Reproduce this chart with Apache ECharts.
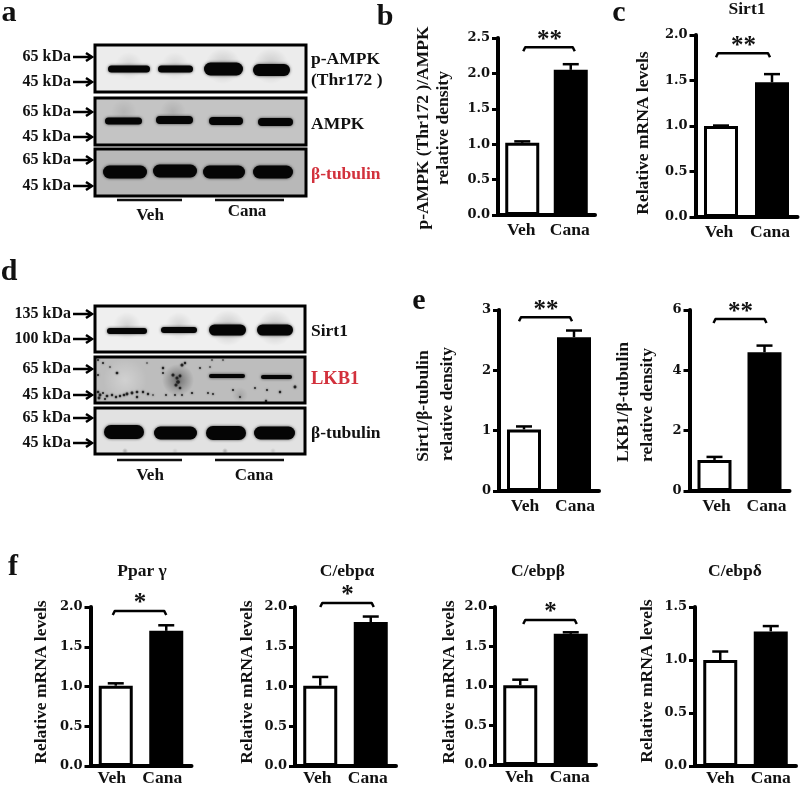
<!DOCTYPE html>
<html>
<head>
<meta charset="utf-8">
<title>Canagliflozin blots and bars</title>
<script src="https://cdn.jsdelivr.net/npm/echarts@6/dist/echarts.min.js"></script>
<style>
html, body { margin: 0; padding: 0; background: #fff; }
#chart { width: 800px; height: 785px; }
</style>
</head>
<body>
<div id="chart"></div>
<script>
const categories = ['Veh', 'Cana'];

// bar heights and upper error bars
const pAmpkValues = [1.02, 2.05];
const pAmpkErrors = [0.02, 0.08];
const sirt1MrnaValues = [1.0, 1.48];
const sirt1MrnaErrors = [0.005, 0.09];
const sirt1DensityValues = [1.02, 2.55];
const sirt1DensityErrors = [0.05, 0.11];
const lkb1DensityValues = [1.03, 4.6];
const lkb1DensityErrors = [0.1, 0.22];
const pparValues = [1.01, 1.7];
const pparErrors = [0.03, 0.07];
const cebpaValues = [1.01, 1.81];
const cebpaErrors = [0.11, 0.07];
const cebpbValues = [1.01, 1.66];
const cebpbErrors = [0.07, 0.02];
const cebpdValues = [1.0, 1.27];
const cebpdErrors = [0.08, 0.05];

const serif = '"Liberation Serif", "Times New Roman", serif';
const tickFont = '"DejaVu Serif", serif';

// x,y,w,h of each plot area. sig = bracket level, stars, sideways shift. nudge = x label shift
const panels = [
  { x: 498, y: 38, w: 97, h: 177, max: 2.5, step: 0.5, nudge: -1, values: pAmpkValues, errors: pAmpkErrors, sig: [2.37, '**', 1] },
  { x: 695.5, y: 35, w: 102, h: 182, max: 2, step: 0.5, nudge: -2, values: sirt1MrnaValues, errors: sirt1MrnaErrors, sig: [1.8, '**', -5] },
  { x: 499, y: 310, w: 100, h: 181, max: 3, step: 1, nudge: 1, values: sirt1DensityValues, errors: sirt1DensityErrors, sig: [2.88, '**', -5] },
  { x: 689.5, y: 310, w: 100, h: 181, max: 6, step: 2, nudge: 2, values: lkb1DensityValues, errors: lkb1DensityErrors, sig: [5.7, '**', -1] },
  { x: 90.5, y: 607, w: 101, h: 159, max: 2, step: 0.5, nudge: -4, values: pparValues, errors: pparErrors, sig: [1.95, '*', -3] },
  { x: 295, y: 607, w: 101, h: 159, max: 2, step: 0.5, nudge: -3, values: cebpaValues, errors: cebpaErrors, sig: [2.05, '*', 0] },
  { x: 495, y: 607, w: 101, h: 158, max: 2, step: 0.5, nudge: -1, values: cebpbValues, errors: cebpbErrors, sig: [1.835, '*', 3] },
  { x: 695, y: 607, w: 101, h: 159, max: 1.5, step: 0.5, nudge: 0, values: cebpdValues, errors: cebpdErrors, sig: null }
];

// [text, x, y, size, color, rotated]
const labels = [
  ['a', 9, 13, 30], ['b', 385, 17, 30], ['c', 619, 13, 30], ['d', 9, 272, 30], ['e', 419, 301, 30], ['f', 13, 567, 30],
  ['p-AMPK (Thr172 )/AMPK', 423, 128, 17.5, '#111', true], ['relative density', 443, 128, 17.5, '#111', true],
  ['Relative mRNA levels', 643, 133, 17.5, '#111', true],
  ['Sirt1/β-tubulin', 423, 406, 17.5, '#111', true], ['relative density', 447, 404, 17.5, '#111', true],
  ['LKB1/β-tubulin', 623, 402, 17.5, '#111', true], ['relative density', 647, 405, 17.5, '#111', true],
  ['Relative mRNA levels', 41, 682, 17.5, '#111', true], ['Relative mRNA levels', 247, 682, 17.5, '#111', true],
  ['Relative mRNA levels', 449, 682, 17.5, '#111', true], ['Relative mRNA levels', 647, 681, 17.5, '#111', true],
  ['Sirt1', 747, 9, 17.5], ['Ppar γ', 142, 571, 17.5], ['C/ebpα', 347, 571, 17.5], ['C/ebpβ', 538, 571, 17.5], ['C/ebpδ', 735, 571, 17.5],
  ['Veh', 150, 216, 17], ['Cana', 247, 212, 17], ['Veh', 150, 476, 17], ['Cana', 254, 476, 17]
];

// blot frames: x, y, w, h, background
const blotFrames = [
  [95, 45, 211, 47, '#ececec'], [95, 98, 211, 47, '#c4c4c4'], [95, 149, 211, 47, '#b8b8b8'],
  [95, 306, 210, 46, '#efefef'], [95, 357, 210, 46, '#bdbdbd'], [95, 408, 210, 46, '#e2e2e2']
];
// soft smears behind the bands: centre x, centre y, half width, half height, colour of the centre
const blotSmears = [
  [129, 66, 30, 14, 'rgba(0,0,0,0.1)'], [175, 66, 26, 14, 'rgba(0,0,0,0.1)'], [223, 66, 30, 18, 'rgba(0,0,0,0.16)'], [271, 66, 28, 18, 'rgba(0,0,0,0.16)'],
  [173, 112, 24, 13, 'rgba(0,0,0,0.1)'], [124, 112, 24, 13, 'rgba(0,0,0,0.08)'],
  [127, 326, 28, 14, 'rgba(0,0,0,0.12)'], [179, 326, 26, 14, 'rgba(0,0,0,0.12)'], [228, 328, 30, 18, 'rgba(0,0,0,0.18)'], [275, 328, 28, 18, 'rgba(0,0,0,0.18)'],
  [125, 380, 30, 22, 'rgba(255,255,255,0.3)'], [178, 380, 16, 22, 'rgba(0,0,0,0.4)'], [240, 395, 32, 8, 'rgba(0,0,0,0.12)'],
  [125, 451, 18, 3, 'rgba(0,0,0,0.25)'], [225, 451, 18, 3, 'rgba(0,0,0,0.25)'], [175, 451, 18, 3, 'rgba(0,0,0,0.1)'], [273, 451, 18, 3, 'rgba(0,0,0,0.12)']
];
// bands: left, right, centre y, height
const blotBands = [
  [108, 150, 69, 7], [158, 193, 69, 7], [204, 243, 69, 13], [253, 290, 70, 12],
  [105, 142, 121, 7], [156, 193, 120, 8], [209, 243, 121, 8], [258, 293, 122, 8],
  [103, 147, 172, 13], [153, 197, 171, 13], [203, 245, 172, 13], [253, 293, 172, 13],
  [107, 147, 331, 6], [161, 197, 330, 6], [209, 246, 330, 11], [257, 293, 330, 11],
  [209, 245, 376, 4], [261, 292, 377, 4],
  [104, 144, 432, 14], [154, 197, 433, 13], [206, 246, 433, 14], [254, 295, 433, 13]
];
// specks on the LKB1 membrane: x, y, radius
const blotSpecks = [
  [98, 360, 1], [103, 363, 1], [110, 367, 0.8], [117, 373, 1.3], [98, 375, 1], [98, 392, 1.3], [100, 395, 1.4], [103, 393, 1], [99, 398, 1.4], [105, 399, 1],
  [120, 396, 1.2], [127, 394, 1.4], [132, 393, 1.4], [137, 392, 1.3], [143, 392, 1.2], [148, 394, 1.2], [153, 395, 0.8], [163, 368, 1.2], [166, 395, 0.9], [173, 375, 1.5],
  [178, 382, 1.8], [182, 365, 1.5], [185, 363, 1.2], [180, 388, 1.3], [175, 395, 0.9], [182, 395, 0.9], [192, 393, 1.1], [200, 368, 0.9], [210, 367, 0.8], [212, 360, 0.8],
  [223, 360, 0.8], [208, 393, 0.9], [213, 394, 0.9], [233, 390, 1], [240, 397, 0.9], [255, 388, 0.9], [267, 390, 1], [280, 392, 1.2], [295, 387, 1.4], [266, 401, 1.2],
  [163, 373, 1], [137, 397, 1.2], [147, 363, 0.7], [107, 396, 1.3], [112, 395, 1.2], [116, 397, 1.2], [124, 395, 1.3], [177, 378, 1.5], [180, 376, 1.4], [176, 385, 1.5]
];
const blotBars = [[117, 182, 200], [215, 284, 200], [117, 182, 460], [215, 284, 460]];
// side names: text, y, size, color
const blotNames = [
  ['p-AMPK', 59, 17.5, '#111'], ['(Thr172 )', 80, 17.5, '#111'], ['AMPK', 124, 17.5, '#111'], ['β-tubulin', 174, 17.5, '#d2313c'],
  ['Sirt1', 331, 17.5, '#111'], ['LKB1', 379, 18.5, '#d2313c'], ['β-tubulin', 433, 17.5, '#111']
];
// size markers: text, y
const sizeMarks = [
  ['65 kDa', 57], ['45 kDa', 82], ['65 kDa', 112], ['45 kDa', 137], ['65 kDa', 160], ['45 kDa', 186],
  ['135 kDa', 314], ['100 kDa', 339], ['65 kDa', 369], ['45 kDa', 395], ['65 kDa', 418], ['45 kDa', 443]
];

const graphics = [];
blotFrames.forEach(f => {
  graphics.push({ type: 'rect', z: 1, shape: { x: f[0], y: f[1], width: f[2], height: f[3] }, style: { fill: f[4] } });
});
blotSmears.forEach(s => {
  graphics.push({
    type: 'ellipse', z: 2,
    shape: { cx: s[0], cy: s[1], rx: s[2], ry: s[3] },
    style: {
      fill: {
        type: 'radial', x: 0.5, y: 0.5, r: 0.5,
        colorStops: [{ offset: 0, color: s[4] }, { offset: 1, color: s[4].replace(/[\d.]+\)$/, '0)') }]
      }
    }
  });
});
blotSpecks.forEach(s => {
  graphics.push({ type: 'circle', z: 2, shape: { cx: s[0], cy: s[1], r: s[2] }, style: { fill: '#222', shadowBlur: 2, shadowColor: '#333' } });
});
blotBands.forEach(b => {
  graphics.push({
    type: 'rect', z: 3,
    shape: { x: b[0], y: b[2] - b[3] / 2, width: b[1] - b[0], height: b[3], r: b[3] / 2 },
    style: { fill: '#050505', shadowBlur: 3, shadowColor: 'rgba(0,0,0,0.7)' }
  });
});
blotFrames.forEach(f => {
  graphics.push({ type: 'rect', z: 3, shape: { x: f[0], y: f[1], width: f[2], height: f[3] }, style: { fill: null, stroke: '#000', lineWidth: 3 } });
});
blotBars.forEach(b => {
  graphics.push({ type: 'line', z: 3, shape: { x1: b[0], y1: b[2], x2: b[1], y2: b[2] }, style: { stroke: '#111', lineWidth: 2.5 } });
});
blotNames.forEach(n => {
  graphics.push({ type: 'text', z: 4, style: { text: n[0], x: 311, y: n[1], fill: n[3], font: 'bold ' + n[2] + 'px ' + serif, textVerticalAlign: 'middle' } });
});
sizeMarks.forEach(m => {
  graphics.push({ type: 'text', z: 4, style: { text: m[0], x: 71, y: m[1], fill: '#111', font: 'bold 16px ' + serif, textAlign: 'right', textVerticalAlign: 'middle' } });
  graphics.push({ type: 'line', z: 4, shape: { x1: 73, y1: m[1], x2: 90, y2: m[1] }, style: { stroke: '#000', lineWidth: 2.5 } });
  graphics.push({ type: 'polyline', z: 4, shape: { points: [[86, m[1] - 4], [92, m[1]], [86, m[1] + 4]] }, style: { stroke: '#000', fill: null, lineWidth: 2.5 } });
});
labels.forEach(l => {
  graphics.push({
    type: 'text', z: 4, x: l[1], y: l[2], rotation: l[5] ? Math.PI / 2 : 0,
    style: { text: l[0], fill: l[4] || '#111', font: 'bold ' + l[3] + 'px ' + serif, textAlign: 'center', textVerticalAlign: 'middle' }
  });
});

function renderError(params, api) {
  const cat = api.value(0);
  const low = api.coord([cat, api.value(1)]);
  const high = api.coord([cat, api.value(1) + api.value(2)]);
  const style = { stroke: '#000', lineWidth: 2.5, fill: null };
  return {
    type: 'group',
    children: [
      { type: 'line', shape: { x1: low[0], y1: low[1], x2: high[0], y2: high[1] }, style },
      { type: 'line', shape: { x1: high[0] - 8, y1: high[1], x2: high[0] + 8, y2: high[1] }, style }
    ]
  };
}

function renderBracket(shift, stars) {
  return (params, api) => {
    const left = api.coord([0, api.value(0)]);
    const right = api.coord([1, api.value(0)]);
    const y = left[1];
    return {
      type: 'group',
      children: [
        {
          type: 'polyline',
          shape: { points: [[left[0] + shift, y + 4], [left[0] + shift + 2, y], [right[0] + shift + 1, y], [right[0] + shift + 3, y + 4]] },
          style: { stroke: '#000', lineWidth: 2.5, fill: null, lineJoin: 'round' }
        },
        {
          type: 'text',
          style: { text: stars, x: (left[0] + right[0]) / 2 + shift + 2, y: y - 7, fill: '#111', font: 'bold 25px ' + serif, textAlign: 'center', textVerticalAlign: 'middle' }
        }
      ]
    };
  };
}

const grid = [], xAxis = [], yAxis = [], series = [];
panels.forEach((p, i) => {
  // outerBoundsMode none, or v6 squeezes the plot to keep the lowest labels on the canvas
  grid.push({ left: p.x, top: p.y, width: p.w, height: p.h, containLabel: false, outerBoundsMode: 'none' });
  xAxis.push({
    type: 'category', gridIndex: i, data: categories,
    axisTick: { show: false },
    axisLine: { lineStyle: { color: '#000', width: 4 } },
    axisLabel: {
      interval: 0, margin: i > 3 ? 3 : 6, color: '#111', fontFamily: serif, fontWeight: 'bold', fontSize: 17.5,
      padding: [0, p.nudge < 0 ? -2 * p.nudge : 0, 0, p.nudge > 0 ? 2 * p.nudge : 0]
    }
  });
  yAxis.push({
    type: 'value', gridIndex: i, min: 0, max: p.max, interval: p.step,
    splitLine: { show: false },
    axisLine: { show: true, lineStyle: { color: '#000', width: 4 } },
    axisTick: { show: true, length: 6, lineStyle: { color: '#000', width: 3 } },
    axisLabel: {
      margin: 8, color: '#111', fontFamily: tickFont, fontWeight: 'bold', fontSize: 13, padding: [3, 0, 0, 0],
      formatter: v => (p.step < 1 ? v.toFixed(1) : String(v))
    }
  });
  series.push({
    type: 'bar', xAxisIndex: i, yAxisIndex: i, barWidth: 34, z: 3,
    data: p.values.map((v, k) => ({
      value: v,
      itemStyle: { color: k === 0 ? '#fff' : '#000', borderColor: '#000', borderWidth: 3 }
    }))
  });
  series.push({
    type: 'custom', xAxisIndex: i, yAxisIndex: i, z: 2,
    encode: { x: 0, y: 1 },
    data: p.values.map((v, k) => [k, v, p.errors[k]]),
    renderItem: renderError
  });
  if (p.sig) {
    series.push({
      type: 'custom', xAxisIndex: i, yAxisIndex: i, clip: false, z: 4,
      encode: { y: 0 },
      data: [[p.sig[0]]],
      renderItem: renderBracket(p.sig[2], p.sig[1])
    });
  }
});

const chart = echarts.init(document.getElementById('chart'), null, { renderer: 'canvas' });
chart.setOption({
  animation: false,
  backgroundColor: '#fff',
  tooltip: { show: false },
  graphic: { elements: graphics },
  grid, xAxis, yAxis, series
});
</script>
</body>
</html>
